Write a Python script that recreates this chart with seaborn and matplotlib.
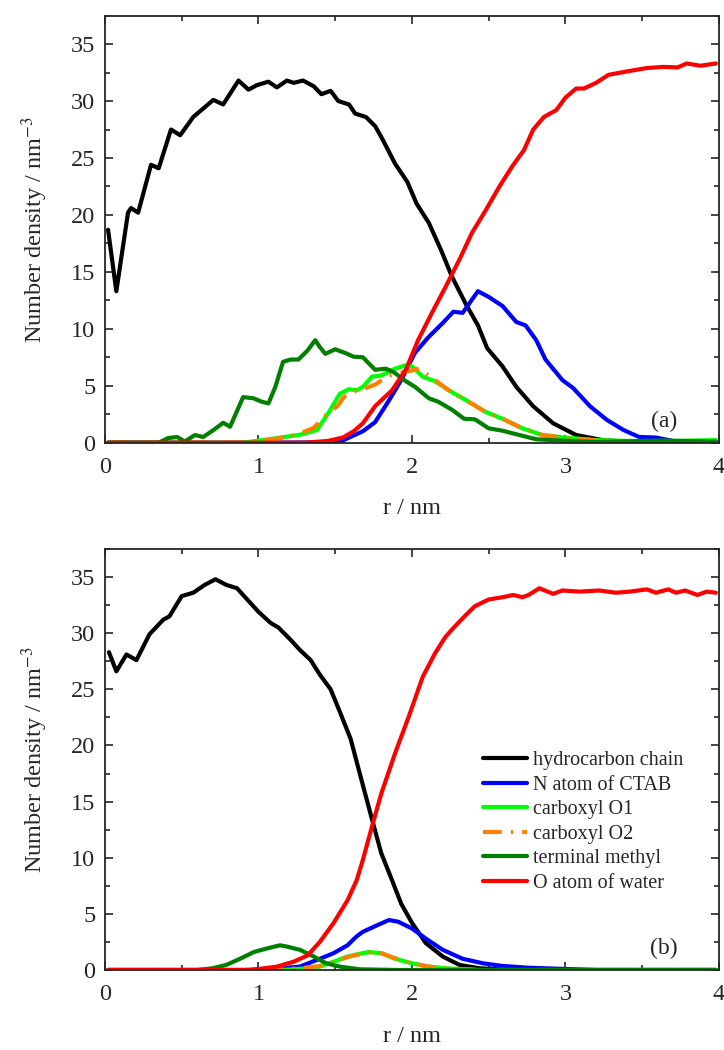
import numpy as np
import matplotlib
matplotlib.use("Agg")
import matplotlib.pyplot as plt
from matplotlib.ticker import MultipleLocator
import seaborn as sns

# ── panel (a) ──
a_chain_r = [0.02, 0.074, 0.15, 0.17, 0.216, 0.30, 0.35, 0.43, 0.49, 0.575, 0.706, 0.77, 0.87, 0.935,
             0.99, 1.065, 1.12, 1.185, 1.23, 1.29, 1.36, 1.41, 1.47, 1.52, 1.59, 1.63, 1.70, 1.76, 1.81,
             1.89, 1.97, 2.03, 2.11, 2.19, 2.26, 2.35, 2.43, 2.49, 2.59, 2.68, 2.79, 2.92, 3.07, 3.24,
             3.42, 3.6, 3.8, 3.98]
a_chain_v = [18.7, 13.3, 20.2, 20.6, 20.2, 24.4, 24.1, 27.5, 27.0, 28.6, 30.1, 29.7, 31.8, 31.0,
             31.4, 31.7, 31.2, 31.8, 31.6, 31.8, 31.3, 30.6, 30.9, 30.0, 29.7, 28.9, 28.6, 27.8, 26.6,
             24.5, 22.9, 21.0, 19.3, 16.9, 14.6, 12.2, 10.3, 8.3, 6.7, 4.9, 3.2, 1.7, 0.67, 0.23,
             0.06, 0.02, 0.0, 0.0]

a_n_r = [0.02, 1.0, 1.4, 1.55, 1.68, 1.76, 1.85, 1.93, 2.02, 2.11, 2.20, 2.27, 2.33, 2.43, 2.50, 2.59,
         2.68, 2.74, 2.81, 2.87, 2.98, 3.05, 3.16, 3.27, 3.38, 3.48, 3.59, 3.70, 3.86, 3.98]
a_n_v = [0.0, 0.0, 0.02, 0.2, 1.0, 1.8, 3.7, 5.5, 7.9, 9.3, 10.5, 11.5, 11.4, 13.3, 12.8, 12.0,
         10.6, 10.3, 9.0, 7.3, 5.5, 4.8, 3.2, 2.0, 1.1, 0.5, 0.45, 0.15, 0.05, 0.03]

a_o1_r = [0.02, 0.9, 1.12, 1.27, 1.38, 1.46, 1.53, 1.59, 1.64, 1.68, 1.74, 1.80, 1.89, 1.96, 2.0, 2.07,
          2.15, 2.24, 2.35, 2.48, 2.59, 2.72, 2.85, 2.98, 3.2, 3.42, 3.7, 3.98]
a_o1_v = [0.0, 0.0, 0.4, 0.7, 1.1, 2.7, 4.3, 4.7, 4.6, 4.9, 5.8, 5.9, 6.5, 6.8, 6.7, 5.8,
          5.4, 4.6, 3.75, 2.7, 2.1, 1.26, 0.67, 0.47, 0.23, 0.15, 0.15, 0.23]

a_o2_r = [0.02, 0.9, 1.1, 1.25, 1.36, 1.44, 1.52, 1.555, 1.62, 1.68, 1.76, 1.85, 1.95, 2.05, 2.15, 2.24,
          2.35, 2.48, 2.59, 2.72, 2.85, 2.98, 3.2, 3.42, 3.7, 3.98]
a_o2_v = [0.0, 0.0, 0.3, 0.7, 1.3, 2.4, 3.3, 4.0, 4.5, 4.7, 5.1, 5.9, 6.2, 6.5, 5.5, 4.6,
          3.75, 2.7, 2.1, 1.26, 0.67, 0.45, 0.2, 0.12, 0.1, 0.1]

a_me_r = [0.02, 0.35, 0.41, 0.47, 0.52, 0.586, 0.64, 0.706, 0.77, 0.815, 0.90, 0.967, 1.02, 1.065,
          1.11, 1.16, 1.21, 1.26, 1.32, 1.37, 1.40, 1.435, 1.50, 1.57, 1.62, 1.68, 1.76, 1.83, 1.88,
          1.96, 2.02, 2.11, 2.17, 2.26, 2.34, 2.41, 2.50, 2.59, 2.70, 2.81, 2.98, 3.2, 3.64, 3.98]
a_me_v = [0.0, 0.0, 0.4, 0.5, 0.1, 0.67, 0.5, 1.1, 1.75, 1.4, 4.0, 3.9, 3.6, 3.45,
          4.9, 7.1, 7.3, 7.3, 8.1, 9.0, 8.4, 7.8, 8.2, 7.85, 7.55, 7.5, 6.4, 6.5, 6.2,
          5.4, 4.9, 3.9, 3.6, 2.9, 2.1, 2.05, 1.26, 1.05, 0.67, 0.3, 0.18, 0.06, 0.18, 0.1]

a_w_r = [0.02, 1.3, 1.45, 1.55, 1.62, 1.68, 1.76, 1.87, 1.96, 2.04, 2.13, 2.22, 2.31, 2.39, 2.48, 2.57,
         2.655, 2.73, 2.79, 2.86, 2.94, 3.00, 3.07, 3.12, 3.20, 3.28, 3.40, 3.53, 3.64, 3.73, 3.79,
         3.88, 3.98]
a_w_v = [0.0, 0.0, 0.15, 0.45, 1.0, 1.7, 3.2, 4.6, 6.4, 9.0, 11.4, 13.7, 16.1, 18.4, 20.4, 22.5,
         24.3, 25.7, 27.5, 28.6, 29.2, 30.3, 31.1, 31.1, 31.6, 32.3, 32.6, 32.9, 33.0, 32.95, 33.3,
         33.1, 33.3]

# ── panel (b) ──
b_chain_r = [0.026, 0.074, 0.14, 0.205, 0.29, 0.38, 0.42, 0.50, 0.575, 0.65, 0.72, 0.79, 0.86, 0.92,
             1.0, 1.08, 1.13, 1.21, 1.27, 1.34, 1.40, 1.47, 1.53, 1.60, 1.66, 1.74, 1.80, 1.87, 1.93,
             2.0, 2.09, 2.20, 2.31, 2.44, 2.66, 3.0, 3.98]
b_chain_v = [28.3, 26.6, 28.1, 27.6, 29.9, 31.2, 31.5, 33.3, 33.6, 34.3, 34.8, 34.3, 34.0, 33.1,
             31.9, 30.9, 30.5, 29.4, 28.5, 27.6, 26.3, 25.0, 23.0, 20.6, 17.5, 13.4, 10.4, 8.0, 5.9,
             4.2, 2.4, 1.2, 0.45, 0.15, 0.0, 0.0, 0.0]

b_n_r = [0.02, 0.9, 1.1, 1.27, 1.40, 1.49, 1.58, 1.64, 1.68, 1.76, 1.85, 1.91, 2.0, 2.09, 2.20, 2.33,
         2.46, 2.59, 2.76, 2.98, 3.2, 3.98]
b_n_v = [0.0, 0.0, 0.1, 0.3, 1.0, 1.5, 2.2, 3.0, 3.4, 3.9, 4.45, 4.3, 3.7, 2.8, 1.8, 1.0,
         0.6, 0.36, 0.2, 0.1, 0.0, 0.0]

b_o1_r = [0.02, 1.15, 1.32, 1.40, 1.49, 1.58, 1.66, 1.72, 1.80, 1.89, 2.0, 2.11, 2.22, 2.44, 3.98]
b_o1_v = [0.0, 0.0, 0.15, 0.3, 0.74, 1.2, 1.45, 1.6, 1.5, 1.0, 0.6, 0.3, 0.15, 0.0, 0.0]

b_o2_r = [0.02, 1.1, 1.3, 1.40, 1.49, 1.58, 1.66, 1.72, 1.80, 1.89, 2.0, 2.11, 2.22, 2.44, 3.98]
b_o2_v = [0.0, 0.0, 0.2, 0.35, 0.7, 1.15, 1.4, 1.55, 1.5, 1.05, 0.6, 0.3, 0.15, 0.0, 0.0]

b_me_r = [0.02, 0.6, 0.70, 0.79, 0.88, 0.97, 1.05, 1.14, 1.18, 1.27, 1.36, 1.44, 1.53, 1.66, 1.9, 3.98]
b_me_v = [0.0, 0.0, 0.15, 0.45, 1.0, 1.6, 1.9, 2.2, 2.1, 1.8, 1.2, 0.6, 0.3, 0.06, 0.0, 0.0]

b_w_r = [0.02, 0.95, 1.12, 1.23, 1.32, 1.40, 1.49, 1.58, 1.64, 1.68, 1.74, 1.80, 1.89, 1.98, 2.07,
         2.15, 2.22, 2.28, 2.35, 2.41, 2.50, 2.59, 2.66, 2.72, 2.76, 2.83, 2.92, 2.98, 3.09, 3.22,
         3.33, 3.42, 3.53, 3.59, 3.67, 3.72, 3.78, 3.86, 3.92, 3.98]
b_w_v = [0.0, 0.0, 0.3, 0.74, 1.3, 2.5, 4.2, 6.2, 8.0, 9.8, 12.8, 15.7, 19.3, 22.6, 26.1,
         28.2, 29.7, 30.6, 31.6, 32.4, 33.0, 33.2, 33.4, 33.2, 33.4, 34.0, 33.5, 33.8, 33.7, 33.8,
         33.6, 33.7, 33.9, 33.6, 33.9, 33.6, 33.8, 33.4, 33.7, 33.6]

labels = ["hydrocarbon chain", "N atom of CTAB", "carboxyl O1", "carboxyl O2",
          "terminal methyl", "O atom of water"]
colors = ["#000000", "#0000FF", "#00FF00", "#FF8000", "#008000", "#FF0000"]

sns.set_style("ticks")
plt.rcParams["font.family"] = ["Liberation Serif", "DejaVu Serif"]
plt.rcParams["mathtext.fontset"] = "stix"

fig = plt.figure(figsize=(7.24, 10.5), dpi=100)
ax_a = fig.add_axes([0.145, 0.5784, 0.848, 0.4067])
ax_b = fig.add_axes([0.145, 0.0762, 0.848, 0.401])

panels = [
    (ax_a, [(a_chain_r, a_chain_v), (a_n_r, a_n_v), (a_o1_r, a_o1_v), (a_o2_r, a_o2_v),
            (a_me_r, a_me_v), (a_w_r, a_w_v)], "(a)"),
    (ax_b, [(b_chain_r, b_chain_v), (b_n_r, b_n_v), (b_o1_r, b_o1_v), (b_o2_r, b_o2_v),
            (b_me_r, b_me_v), (b_w_r, b_w_v)], "(b)"),
]

for ax, series, tag in panels:
    for (r, v), lab, c in zip(series, labels, colors):
        sns.lineplot(x=r, y=v, ax=ax, color=c, linewidth=3.0, label=lab, sort=False)
    # orange is dash-dot
    ax.lines[3].set_dashes([4.5, 2.2, 0.5, 2.2])
    ax.set_xlim(0, 4)
    ax.set_ylim(0, 37.5)
    ax.xaxis.set_major_locator(MultipleLocator(1))
    ax.xaxis.set_minor_locator(MultipleLocator(0.5))
    ax.yaxis.set_major_locator(MultipleLocator(5))
    ax.yaxis.set_minor_locator(MultipleLocator(2.5))
    ax.tick_params(which="both", direction="in", top=True, right=True, width=1.2)
    ax.tick_params(which="major", length=6, labelsize=17.5)
    ax.tick_params(which="minor", length=3.5)
    ax.tick_params(axis="y", pad=7)
    ax.tick_params(axis="x", pad=10)
    for s in ax.spines.values():
        s.set_linewidth(1.3)
    ax.set_xlabel("r / nm", fontsize=17.5, labelpad=15)
    ax.set_ylabel("Number density / nm$^{-3}$", fontsize=17.5, labelpad=15)
    ax.text(3.64, 1.9, tag, fontsize=17, ha="center", va="center")
    ax.get_legend().remove()

handles, labs = ax_b.get_legend_handles_labels()
ax_b.legend(handles, labs, loc="upper left", bbox_to_anchor=(0.615, 0.52), frameon=False,
            fontsize=14.5, handlelength=2.2, handletextpad=0.3, labelspacing=0.27,
            borderpad=0, borderaxespad=0)

fig.savefig("out.png", dpi=100)
